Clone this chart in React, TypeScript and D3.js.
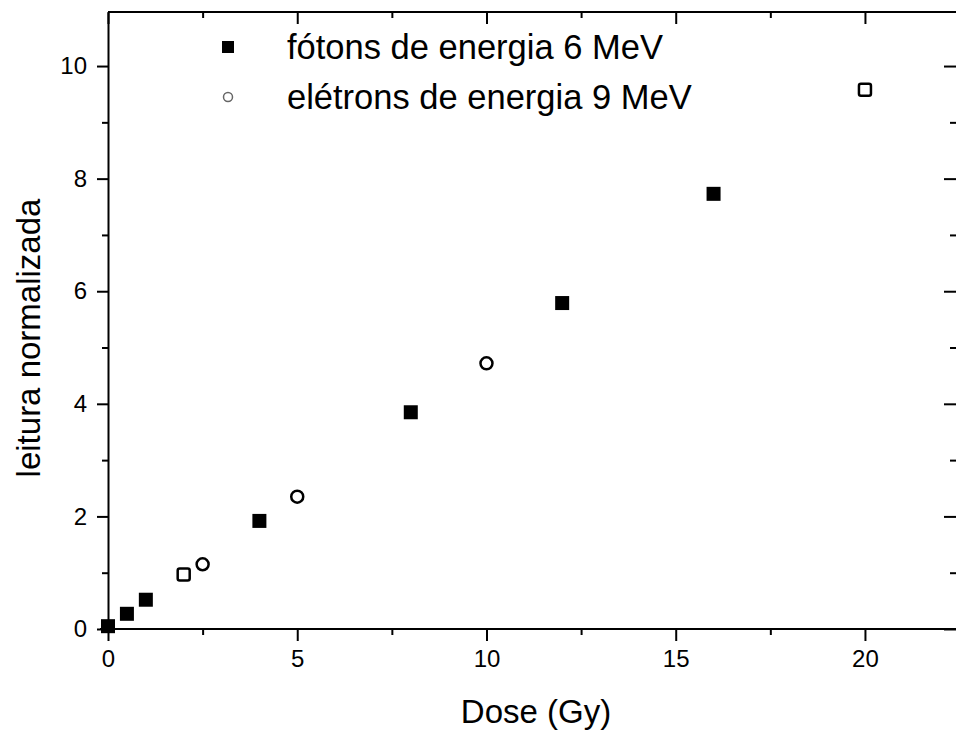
import { useEffect, useRef } from "react"
import * as d3 from "d3"

// fótons de energia 6 MeV (filled squares)
const photonDose = [0, 0.5, 1, 4, 8, 12, 16]
const photonReading = [0.05, 0.27, 0.52, 1.92, 3.85, 5.79, 7.73]

// elétrons de energia 9 MeV (open circles)
const electronDose = [2.5, 5, 10]
const electronReading = [1.15, 2.35, 4.72]

// open squares without legend entry
const openSquareDose = [2, 20]
const openSquareReading = [0.97, 9.58]

const xTicks = [0, 5, 10, 15, 20]
const yTicks = [0, 2, 4, 6, 8, 10]
const legendLabels = ["fótons de energia 6 MeV", "elétrons de energia 9 MeV"]

export default function App() {
  const svgRef = useRef<SVGSVGElement>(null)

  useEffect(() => {
    if (!svgRef.current) return
    const svg = d3.select(svgRef.current)
    svg.selectAll("*").remove()

    const width = 956
    const height = 731
    const font = "'Liberation Sans', Arial, sans-serif"
    const xMax = 22.3
    const yMax = 10.96

    const x = d3.scaleLinear().domain([0, xMax]).range([108, 952])
    const y = d3.scaleLinear().domain([0, yMax]).range([629, 12])

    svg.attr("width", width).attr("height", height)
    svg.append("rect").attr("width", width).attr("height", height).attr("fill", "#fff")

    const xMinor = d3.range(2.5, xMax, 5)
    const yMinor = d3.range(1, 11, 2)

    const styleAxis = (g: any) => {
      g.attr("font-size", 24).attr("font-family", font)
      g.select(".domain").attr("stroke", "#000").attr("stroke-width", 2)
      g.selectAll(".tick line").attr("stroke", "#000").attr("stroke-width", 2)
      g.selectAll(".tick text").attr("fill", "#000")
    }

    // bottom axis
    svg
      .append("g")
      .attr("transform", `translate(0,${y(0)})`)
      .call(d3.axisBottom(x).tickValues(xTicks).tickSize(12).tickSizeOuter(0).tickPadding(9).tickFormat(d3.format("d")))
      .call(styleAxis)
      .call((g) => g.select(".domain").attr("d", `M${x(0) - 8},0H${width}`))
    svg
      .append("g")
      .attr("transform", `translate(0,${y(0)})`)
      .call(d3.axisBottom(x).tickValues(xMinor).tickSize(6).tickSizeOuter(0).tickFormat(() => ""))
      .call((g) => g.select(".domain").remove())
      .call(styleAxis)

    // left axis
    svg
      .append("g")
      .attr("transform", `translate(${x(0)},0)`)
      .call(d3.axisLeft(y).tickValues(yTicks).tickSize(11).tickSizeOuter(0).tickPadding(10).tickFormat(d3.format("d")))
      .call(styleAxis)
    svg
      .append("g")
      .attr("transform", `translate(${x(0)},0)`)
      .call(d3.axisLeft(y).tickValues(yMinor).tickSize(6).tickSizeOuter(0).tickFormat(() => ""))
      .call((g) => g.select(".domain").remove())
      .call(styleAxis)

    // top axis (ticks inward)
    svg
      .append("g")
      .attr("transform", `translate(0,${y(yMax)})`)
      .call(d3.axisTop(x).tickValues(xTicks).tickSize(-12).tickSizeOuter(0).tickFormat(() => ""))
      .call(styleAxis)
      .call((g) => g.select(".domain").attr("d", `M${x(0)},0H${width}`))
    svg
      .append("g")
      .attr("transform", `translate(0,${y(yMax)})`)
      .call(d3.axisTop(x).tickValues(xMinor).tickSize(-6).tickSizeOuter(0).tickFormat(() => ""))
      .call((g) => g.select(".domain").remove())
      .call(styleAxis)

    // right axis: only inward ticks at the image edge
    svg
      .append("g")
      .attr("transform", `translate(${width},0)`)
      .call(d3.axisRight(y).tickValues(yTicks).tickSize(-12).tickSizeOuter(0).tickFormat(() => ""))
      .call((g) => g.select(".domain").remove())
      .call(styleAxis)
    svg
      .append("g")
      .attr("transform", `translate(${width},0)`)
      .call(d3.axisRight(y).tickValues(yMinor).tickSize(-6).tickSizeOuter(0).tickFormat(() => ""))
      .call((g) => g.select(".domain").remove())
      .call(styleAxis)

    // photons: filled squares
    const sq = 14
    svg
      .selectAll(".photon")
      .data(photonDose.map((d, i) => [d, photonReading[i]]))
      .enter()
      .append("rect")
      .attr("x", (d) => x(d[0]) - sq / 2)
      .attr("y", (d) => y(d[1]) - sq / 2)
      .attr("width", sq)
      .attr("height", sq)
      .attr("fill", "#000")

    // electrons: open circles
    svg
      .selectAll(".electron")
      .data(electronDose.map((d, i) => [d, electronReading[i]]))
      .enter()
      .append("circle")
      .attr("cx", (d) => x(d[0]))
      .attr("cy", (d) => y(d[1]))
      .attr("r", 6)
      .attr("fill", "#fff")
      .attr("stroke", "#000")
      .attr("stroke-width", 2.5)

    // open squares
    const osq = 12
    svg
      .selectAll(".openSquare")
      .data(openSquareDose.map((d, i) => [d, openSquareReading[i]]))
      .enter()
      .append("rect")
      .attr("x", (d) => x(d[0]) - osq / 2)
      .attr("y", (d) => y(d[1]) - osq / 2)
      .attr("width", osq)
      .attr("height", osq)
      .attr("rx", 2)
      .attr("fill", "#fff")
      .attr("stroke", "#000")
      .attr("stroke-width", 2.5)

    // legend
    const legend = svg.append("g")
    legend.append("rect").attr("x", 222).attr("y", 41).attr("width", 12).attr("height", 12).attr("fill", "#000")
    legend
      .append("circle")
      .attr("cx", 228)
      .attr("cy", 97)
      .attr("r", 4.5)
      .attr("fill", "#fff")
      .attr("stroke", "#666")
      .attr("stroke-width", 1.5)
    legend
      .selectAll(".legendText")
      .data(legendLabels)
      .enter()
      .append("text")
      .attr("x", 287)
      .attr("y", (d, i) => 59 + i * 50)
      .text((d) => d)
      .style("font-family", font)
      .style("font-size", "34.5px")
      .attr("fill", "#000")

    // axis titles
    svg
      .append("text")
      .attr("x", 536)
      .attr("y", 723)
      .attr("text-anchor", "middle")
      .text("Dose (Gy)")
      .style("font-family", font)
      .style("font-size", "33px")
      .attr("fill", "#000")

    svg
      .append("text")
      .attr("transform", `translate(40,338) rotate(-90)`)
      .attr("text-anchor", "middle")
      .text("leitura normalizada")
      .style("font-family", font)
      .style("font-size", "33px")
      .attr("fill", "#000")
  }, [])

  return <svg ref={svgRef} style={{ position: "absolute", left: 0, top: 0, display: "block" }}></svg>
}
